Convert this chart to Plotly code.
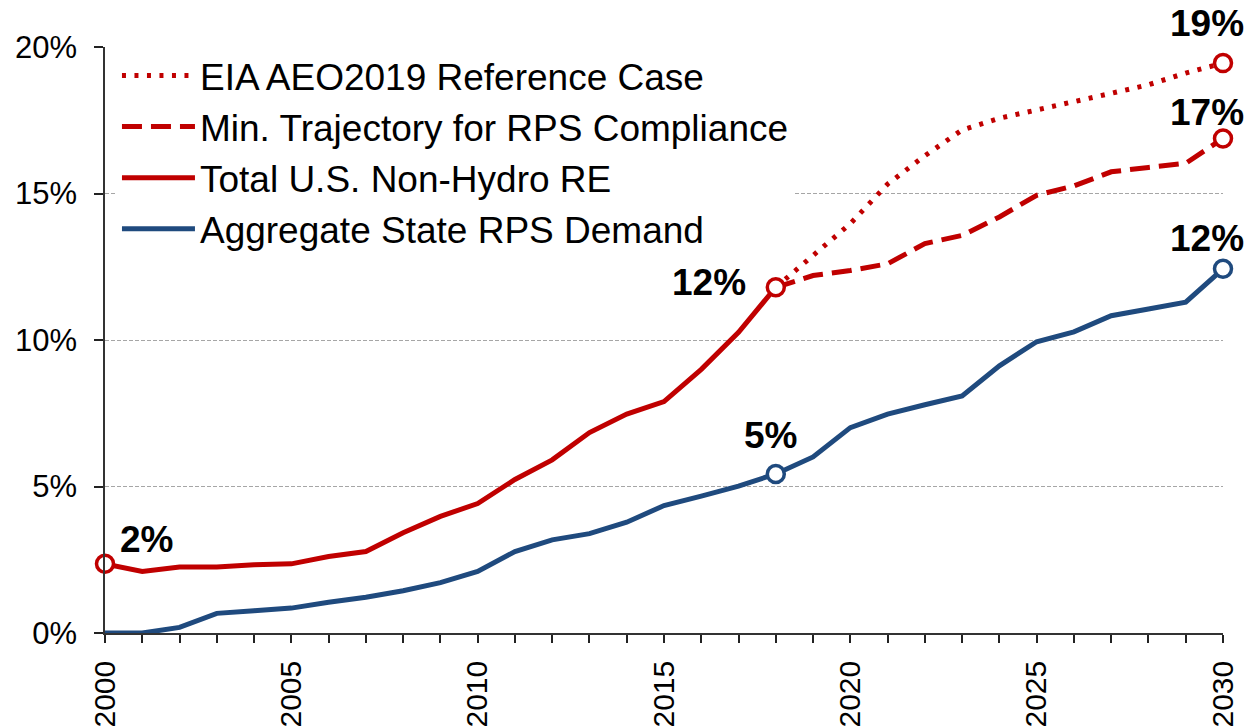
import plotly.graph_objects as go

# ---- data (percent of U.S. retail electricity sales) ----
years_hist = list(range(2000, 2019))
total_re_hist = [2.36, 2.10, 2.25, 2.25, 2.33, 2.36, 2.61, 2.78, 3.42, 3.98,
                 4.42, 5.24, 5.91, 6.84, 7.47, 7.90, 9.00, 10.26, 11.80]
years_proj = list(range(2018, 2031))
eia_aeo2019 = [11.80, 12.91, 13.97, 15.32, 16.29, 17.17, 17.57, 17.85, 18.12,
               18.42, 18.71, 19.11, 19.45]
min_trajectory = [11.80, 12.20, 12.37, 12.60, 13.29, 13.57, 14.20, 14.94, 15.26,
                  15.74, 15.89, 16.03, 16.88]
years_all = list(range(2000, 2031))
rps_demand = [0.00, 0.00, 0.19, 0.67, 0.76, 0.85, 1.05, 1.22, 1.44, 1.72,
              2.10, 2.78, 3.18, 3.39, 3.78, 4.35, 4.67, 5.01, 5.43, 6.01,
              7.01, 7.47, 7.79, 8.09, 9.12, 9.94, 10.28, 10.83, 11.06, 11.29,
              12.43]

names = ["EIA AEO2019 Reference Case", "Min. Trajectory for RPS Compliance",
         "Total U.S. Non-Hydro RE", "Aggregate State RPS Demand"]
y_ticks = [0, 5, 10, 15, 20]
x_ticks = [2000, 2005, 2010, 2015, 2020, 2025, 2030]

RED = "#C00000"
BLUE = "#1F4A7E"
FONT = "Arial, Liberation Sans, sans-serif"

fig = go.Figure()

fig.add_trace(go.Scatter(x=years_proj, y=eia_aeo2019, mode="lines", name=names[0],
                         line=dict(color=RED, width=5, dash="4px,8.5px"), cliponaxis=False))
fig.add_trace(go.Scatter(x=years_proj, y=min_trajectory, mode="lines", name=names[1],
                         line=dict(color=RED, width=5, dash="20px,9px"), cliponaxis=False))
fig.add_trace(go.Scatter(x=years_hist, y=total_re_hist, mode="lines", name=names[2],
                         line=dict(color=RED, width=5), cliponaxis=False))
fig.add_trace(go.Scatter(x=years_all, y=rps_demand, mode="lines", name=names[3],
                         line=dict(color=BLUE, width=5), cliponaxis=False))

# highlighted points: (x list, y list, index, colour, label shift x, label shift y, anchor)
highlights = [
    (years_hist, total_re_hist, 0, RED, 41, 24, "center"),
    (years_hist, total_re_hist, -1, RED, -28, 5, "right"),
    (years_all, rps_demand, 18, BLUE, -5, 38, "center"),
    (years_proj, eia_aeo2019, -1, RED, -16, 40, "center"),
    (years_proj, min_trajectory, -1, RED, -16, 26, "center"),
    (years_all, rps_demand, -1, BLUE, -16, 30, "center"),
]
for xs, ys, i, col, dx, dy, anc in highlights:
    fig.add_trace(go.Scatter(x=[xs[i]], y=[ys[i]], mode="markers", showlegend=False,
                             cliponaxis=False,
                             marker=dict(size=17, color="white", line=dict(color=col, width=3.5))))
    fig.add_annotation(x=xs[i], y=ys[i], xref="x", yref="y", text=f"{ys[i]:.0f}%",
                       showarrow=False, xanchor=anc, yanchor="middle", xshift=dx, yshift=dy,
                       font=dict(family=FONT, size=37, color="black", weight="bold"))

fig.update_layout(
    width=1246, height=728,
    margin=dict(l=105, r=23, t=47, b=95, autoexpand=False),
    paper_bgcolor="white", plot_bgcolor="white",
    font=dict(family=FONT, color="black"),
    showlegend=True,
    legend=dict(x=0.0107, y=1.0035, xanchor="left", yanchor="top",
                bgcolor="white", borderwidth=0, itemwidth=73,
                font=dict(family=FONT, size=37, color="black"),
                tracegroupgap=0),
    xaxis=dict(range=[2000, 2030], tickvals=x_ticks, ticktext=[str(v) for v in x_ticks],
               tickangle=-90, ticks="outside", ticklen=8, tickwidth=1.5, tickcolor="#222",
               showline=True, linecolor="#333", linewidth=1.5, showgrid=False, zeroline=False,
               ticklabelstandoff=6, automargin=False,
               minor=dict(ticks="outside", dtick=1, tick0=2000, ticklen=8, tickwidth=1.5,
                          tickcolor="#222", showgrid=False),
               tickfont=dict(family=FONT, size=30, color="black")),
    yaxis=dict(range=[0, 20], tickvals=y_ticks, ticktext=[f"{v}%" for v in y_ticks],
               ticks="outside", ticklen=9, tickwidth=1.5, tickcolor="#222",
               showline=True, linecolor="#333", linewidth=1.5, zeroline=False,
               showgrid=True, gridcolor="#A6A6A6", gridwidth=1, griddash="4px,2px",
               ticklabelstandoff=11, automargin=False,
               tickfont=dict(family=FONT, size=31, color="black")),
)

fig.write_html("out.html", config={"displayModeBar": False},
               post_script="document.body.style.margin='0';document.body.style.padding='0';")
